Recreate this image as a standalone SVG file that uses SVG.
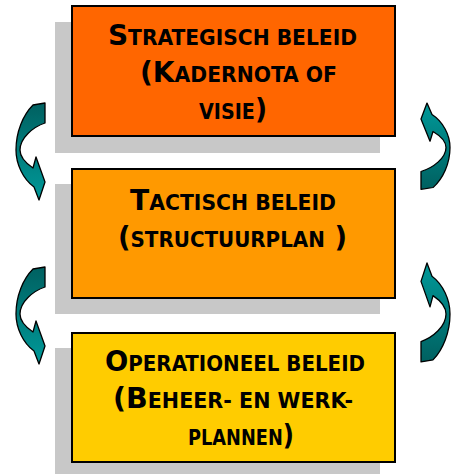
<svg xmlns="http://www.w3.org/2000/svg" xmlns:xlink="http://www.w3.org/1999/xlink" width="451" height="474" viewBox="0 0 451 474">
<style>
.shadow{fill:#C8C8C8}
.box{stroke:#000;stroke-width:2}
.t{font-family:"DejaVu Sans Condensed","DejaVu Sans",sans-serif;font-weight:bold;font-size:21px;fill:#000}
.b{font-size:29px}
.arr{fill:url(#teal);stroke:#000;stroke-width:1.3;stroke-linejoin:round}
</style>
<defs>
<linearGradient id="teal" x1="0" y1="0" x2="0" y2="1">
<stop offset="0" stop-color="#006060"/>
<stop offset="0.45" stop-color="#007a7a"/>
<stop offset="1" stop-color="#009999"/>
</linearGradient>
<path id="curve" d="M18,3 L30,1 L30,21 C18,25 5,36 5,48 C5,56 12,62 18,66 L21,55 L30,80 L24,98 L19,85 C8,77 1,62 1,48 C1,30 8,13 18,3 Z"/>
</defs>
<g id="strategisch">
<rect class="shadow" x="55" y="22" width="325" height="131"/>
<rect class="box" x="72" y="6" width="323" height="130" fill="#FF6600"/>
<text class="t" x="108" y="45" textLength="249" lengthAdjust="spacingAndGlyphs"><tspan class="b">S</tspan>TRATEGISCH BELEID</text>
<text class="t" x="140" y="82" textLength="197" lengthAdjust="spacingAndGlyphs"><tspan class="b">(K</tspan>ADERNOTA OF</text>
<text class="t" x="199" y="119" textLength="68" lengthAdjust="spacingAndGlyphs">VISIE<tspan class="b">)</tspan></text>
</g>
<g id="tactisch">
<rect class="shadow" x="55" y="184" width="325" height="130"/>
<rect class="box" x="72" y="169" width="323" height="129" fill="#FF9900"/>
<text class="t" x="130" y="210" textLength="206" lengthAdjust="spacingAndGlyphs"><tspan class="b">T</tspan>ACTISCH BELEID</text>
<text class="t" x="118" y="247" textLength="229" lengthAdjust="spacingAndGlyphs"><tspan class="b">(</tspan>STRUCTUURPLAN<tspan class="b"> )</tspan></text>
</g>
<g id="operationeel">
<rect class="shadow" x="55" y="348" width="325" height="130"/>
<rect class="box" x="72" y="333" width="323" height="129" fill="#FFCC00"/>
<text class="t" x="105" y="371" textLength="260" lengthAdjust="spacingAndGlyphs"><tspan class="b">O</tspan>PERATIONEEL BELEID</text>
<text class="t" x="113" y="408" textLength="240" lengthAdjust="spacingAndGlyphs"><tspan class="b">(B</tspan>EHEER- EN WERK-</text>
<text class="t" x="188" y="445" textLength="106" lengthAdjust="spacingAndGlyphs">PLANNEN<tspan class="b">)</tspan></text>
</g>
<g id="connectors">
<use xlink:href="#curve" class="arr" transform="translate(15,102)"/>
<use xlink:href="#curve" class="arr" transform="translate(15,266)"/>
<use xlink:href="#curve" class="arr" transform="translate(421,103) scale(1,0.89) rotate(180,15,49)"/>
<use xlink:href="#curve" class="arr" transform="translate(421,263) scale(1,1.02) rotate(180,15,49)"/>
</g>
</svg>
